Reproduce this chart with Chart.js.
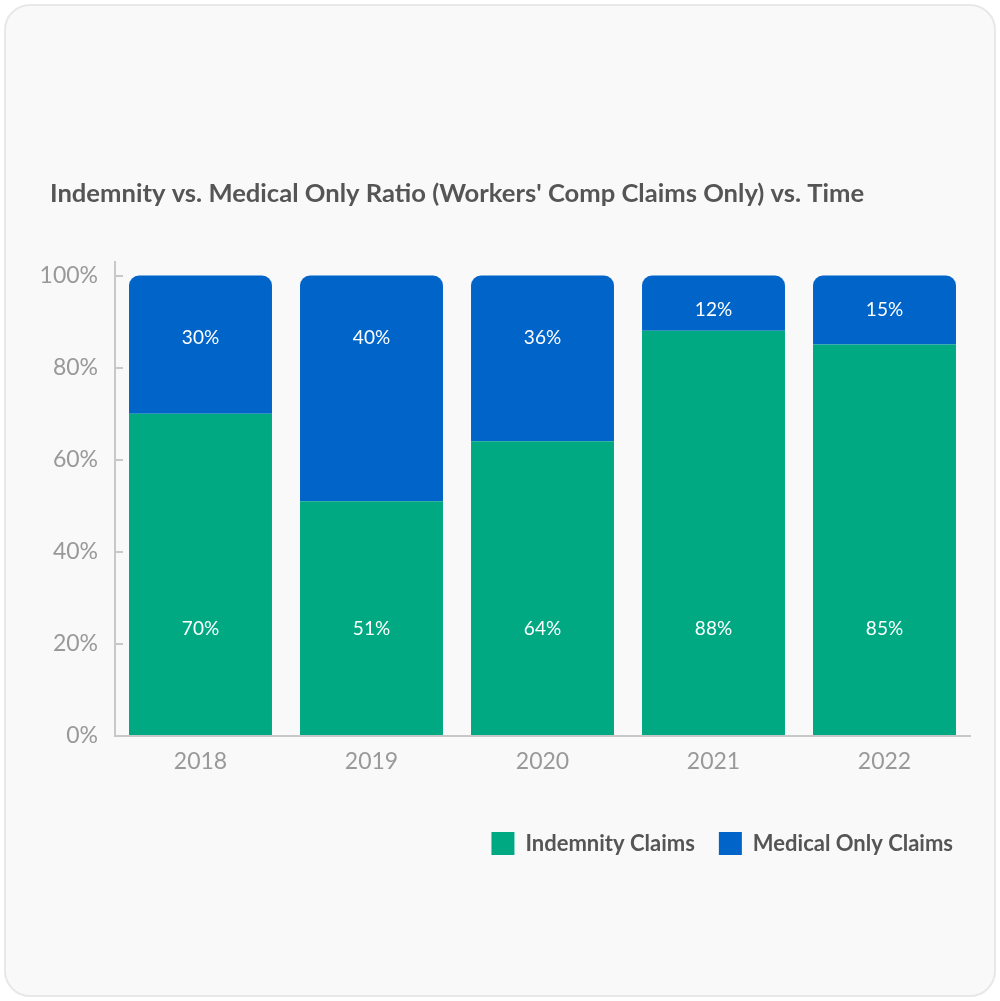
<!DOCTYPE html>
<html>
<head>
<meta charset="utf-8">
<script src="https://cdn.jsdelivr.net/npm/chart.js@4.4.1/dist/chart.umd.min.js"></script>
<style>
  html, body { margin: 0; padding: 0; background: #ffffff; }
  #wrap { position: relative; width: 1000px; height: 1001px; }
  #card {
    position: absolute; left: 4px; top: 4px; width: 988px; height: 989px;
    border: 2px solid #e8e8e8; border-radius: 26px; background: #f9f9f9;
  }
  #chart { position: absolute; left: 0; top: 0; }
</style>
</head>
<body>
<div id="wrap">
  <div id="card"></div>
  <canvas id="chart" width="1000" height="1001"></canvas>
</div>
<script>
const years = ["2018", "2019", "2020", "2021", "2022"];
const indemnity = [70, 51, 64, 88, 85];
// bar heights as drawn (2019 top segment fills to 100%)
const medicalOnly = [30, 49, 36, 12, 15];
// labels printed on the bars
const indemnityLabels = ["70%", "51%", "64%", "88%", "85%"];
const medicalLabels = ["30%", "40%", "36%", "12%", "15%"];
const yTicks = [0, 20, 40, 60, 80, 100];

const GREEN = "#00a982";
const BLUE = "#0064c9";
const FONT = "Lato, 'Open Sans', sans-serif";

//========================================================================
const barLabels = {
  id: "barLabels",
  afterDatasetsDraw: chart => {
    const ctx = chart.ctx;
    const y = chart.scales.y;
    const texts = [indemnityLabels, medicalLabels];
    ctx.save();
    ctx.fillStyle = "#ffffff";
    ctx.font = "19px " + FONT;
    ctx.textAlign = "center";
    ctx.textBaseline = "middle";
    chart.data.datasets.forEach((ds, di) => {
      const meta = chart.getDatasetMeta(di);
      meta.data.forEach((bar, i) => {
        let v;
        if (di === 0) {
          v = 23.3;
        } else {
          const start = indemnity[i];
          v = (start + 5 < 86.5) ? 86.5 : 92.6;
        }
        ctx.fillText(texts[di][i], bar.x, y.getPixelForValue(v));
      });
    });
    ctx.restore();
  }
};

// nudge title / legend boxes to where the original sits
const shiftBoxes = {
  id: "shiftBoxes",
  afterLayout: chart => {
    chart.titleBlock.left += 12;
    chart.titleBlock.right += 12;
    chart.legend.left += 7;
    chart.legend.right += 7;
  }
};

//========================================================================
new Chart(document.getElementById("chart"), {
  type: "bar",
  data: {
    labels: years,
    datasets: [
      {
        label: "Indemnity Claims",
        data: indemnity,
        backgroundColor: GREEN,
        borderWidth: 0,
        borderRadius: 0
      },
      {
        label: "Medical Only Claims",
        data: medicalOnly,
        backgroundColor: BLUE,
        borderWidth: 0,
        borderSkipped: false,
        borderRadius: { topLeft: 10, topRight: 10, bottomLeft: 0, bottomRight: 0 }
      }
    ]
  },
  plugins: [barLabels, shiftBoxes],
  options: {
    responsive: false,
    animation: false,
    layout: { padding: { left: 38, right: 30, top: 178, bottom: 136 } },
    datasets: {
      bar: { categoryPercentage: 1, barPercentage: 0.836 }
    },
    plugins: {
      tooltip: { enabled: false },
      title: {
        display: true,
        text: "Indemnity vs. Medical Only Ratio (Workers' Comp Claims Only) vs. Time",
        align: "start",
        color: "#555555",
        font: { family: FONT, size: 25.6, weight: "bold" },
        padding: { top: 0, bottom: 53 }
      },
      legend: {
        position: "bottom",
        align: "end",
        labels: {
          color: "#555555",
          font: { family: FONT, size: 22, weight: "bold" },
          boxWidth: 23,
          boxHeight: 23,
          padding: 24
        }
      }
    },
    scales: {
      x: {
        stacked: true,
        grid: { display: false, drawTicks: false },
        border: { display: true, color: "#c8c8c8", width: 2 },
        ticks: {
          color: "#999999",
          font: { family: FONT, size: 23 },
          padding: 12
        },
        afterFit: scale => { scale.height = 72; }
      },
      y: {
        stacked: true,
        min: 0,
        max: 103,
        grid: { drawOnChartArea: false, tickLength: -8, color: "#c8c8c8", lineWidth: 2 },
        border: { display: true, color: "#c8c8c8", width: 2 },
        ticks: {
          color: "#999999",
          font: { family: FONT, size: 23 },
          padding: 25,
          callback: v => v + "%"
        },
        afterBuildTicks: scale => {
          scale.ticks = yTicks.map(v => ({ value: v }));
        },
        afterFit: scale => { scale.width = 77; }
      }
    }
  }
});
</script>
</body>
</html>
